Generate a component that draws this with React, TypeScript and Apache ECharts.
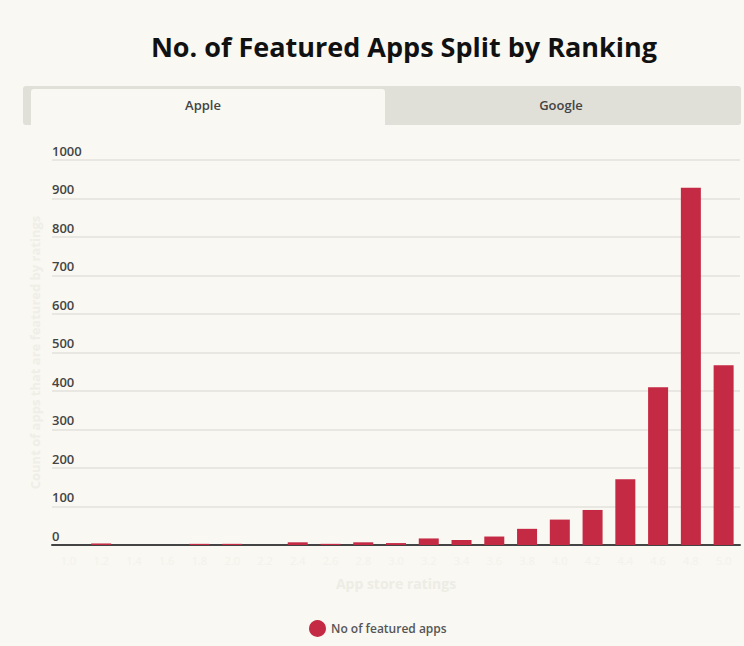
import React, { useEffect, useRef } from "react";
import * as echarts from "echarts";

const categories = ["1.0","1.2","1.4","1.6","1.8","2.0","2.2","2.4","2.6","2.8","3.0","3.2","3.4","3.6","3.8","4.0","4.2","4.4","4.6","4.8","5.0"];
const featuredApps = [0, 4, 0, 0, 3, 3, 0, 7, 3, 7, 5, 17, 13, 22, 42, 66, 91, 171, 410, 928, 467];
const yTicks = [0, 100, 200, 300, 400, 500, 600, 700, 800, 900, 1000];
const tabs = ["Apple", "Google"];
const seriesName = "No of featured apps";
const titleText = "No. of Featured Apps Split by Ranking";

const BG = "#f9f8f2";
const FONT = "'Open Sans', sans-serif";

export default function App() {
  const ref = useRef<HTMLDivElement>(null);
  useEffect(() => {
    if (!ref.current) return;
    const chart = echarts.init(ref.current, undefined, { renderer: "svg" });
    chart.setOption({
      animation: false,
      backgroundColor: BG,
      textStyle: { fontFamily: FONT },
      graphic: [
        {
          type: "text",
          x: 404,
          y: 46,
          style: {
            text: titleText,
            fontSize: 27,
            fontWeight: "bold",
            fontFamily: FONT,
            fill: "#111",
            align: "center",
            verticalAlign: "middle",
          },
        },
        {
          type: "rect",
          shape: { x: 23, y: 86, width: 718, height: 39, r: 3 },
          style: { fill: "#e0dfd8" },
        },
        {
          type: "rect",
          shape: { x: 31, y: 89, width: 354, height: 36, r: [3, 3, 0, 0] },
          style: { fill: BG },
        },
        {
          type: "text",
          x: 203,
          y: 105,
          style: { text: tabs[0], fontSize: 13, fontWeight: 600, fontFamily: FONT, fill: "#444", align: "center", verticalAlign: "middle" },
        },
        {
          type: "text",
          x: 561,
          y: 105,
          style: { text: tabs[1], fontSize: 13, fontWeight: 600, fontFamily: FONT, fill: "#444", align: "center", verticalAlign: "middle" },
        },
      ],
      legend: {
        data: [seriesName],
        left: 304,
        top: 615,
        icon: "circle",
        itemWidth: 17,
        itemHeight: 17,
        itemGap: 6,
        textStyle: { fontSize: 12, fontWeight: 600, color: "#555", fontFamily: FONT },
      },
      grid: { left: 52, right: 4, top: 160, bottom: 101, containLabel: false },
      xAxis: {
        type: "category",
        data: categories,
        name: "App store ratings",
        nameLocation: "middle",
        nameGap: 31,
        nameTextStyle: { fontSize: 14, fontWeight: "bold", color: "#edece5", fontFamily: FONT },
        axisLine: { lineStyle: { color: "#444", width: 2 } },
        axisTick: { show: false },
        axisLabel: { color: "#f3f2ec", fontSize: 11, margin: 10 },
      },
      yAxis: {
        type: "value",
        min: 0,
        max: 1000,
        interval: 100,
        name: "Count of apps that are featured by ratings",
        nameLocation: "middle",
        nameRotate: 90,
        nameGap: 11,
        nameTextStyle: { fontSize: 13, fontWeight: "bold", color: "#efeee7", fontFamily: FONT },
        axisLine: { show: false },
        axisTick: { show: false },
        splitLine: { lineStyle: { color: "#e3e2db", width: 1.5 } },
        axisLabel: {
          inside: true,
          margin: 0,
          align: "left",
          verticalAlign: "bottom",
          padding: [0, 0, 3, 0],
          fontSize: 13,
          fontWeight: 600,
          color: "#444",
          fontFamily: FONT,
          formatter: (v: number) => (yTicks.includes(v) ? String(v) : ""),
        },
      },
      series: [
        {
          name: seriesName,
          type: "bar",
          data: featuredApps,
          barWidth: 20,
          itemStyle: { color: "#c52a44" },
        },
      ],
    });
    return () => chart.dispose();
  }, []);
  return (
    <div
      ref={ref}
      style={{ position: "absolute", left: 0, top: 0, width: 744, height: 646, background: BG }}
    />
  );
}
